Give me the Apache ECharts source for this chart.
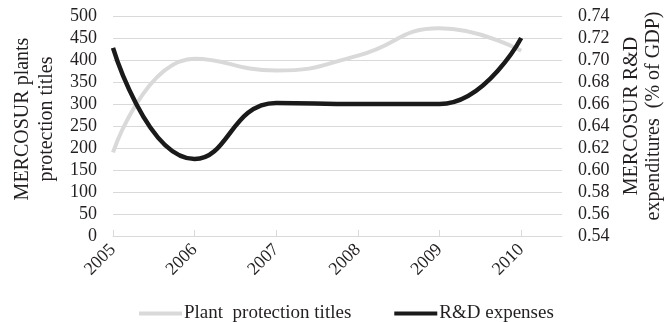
<!DOCTYPE html>
<html>
<head>
<meta charset="utf-8">
<script src="https://cdn.jsdelivr.net/npm/echarts@6/dist/echarts.min.js"></script>
<style>
html,body{margin:0;padding:0;background:#fff;}
#chart{width:665px;height:322px;}
</style>
</head>
<body>
<div id="chart"></div>
<script>
const years = [2005, 2006, 2007, 2008, 2009, 2010];
const plantTitles = [190, 403, 376, 410, 472, 421];
const rdExpenses = [0.711, 0.610, 0.661, 0.660, 0.660, 0.720];
const leftName = 'MERCOSUR plants\nprotection titles';
const rightName = 'MERCOSUR R&D\nexpenditures  (% of GDP)';
const seriesNames = ['Plant  protection titles', 'R&D expenses'];

const FONT = '"Liberation Serif", "Times New Roman", serif';
const TXT = '#231f20';
const GRID = '#d9d9d9';

const chart = echarts.init(document.getElementById('chart'), null, {renderer: 'canvas'});
chart.setOption({
  animation: false,
  textStyle: {fontFamily: FONT, color: TXT},
  grid: {left: 113, right: 103, top: 16, bottom: 86, containLabel: false, outerBoundsMode: 'none'},
  legend: {
    left: 134, top: 299,
    itemWidth: 43, itemHeight: 4, itemGap: 43,
    icon: 'rect',
    textStyle: {fontFamily: FONT, fontSize: 19, color: TXT, padding: [0,0,0,-3]},
    data: seriesNames
  },
  xAxis: {
    type: 'value',
    min: years[0], max: years[years.length - 1] + 0.5,
    interval: 1,
    splitLine: {show: false},
    axisLine: {show: true, lineStyle: {color: GRID, width: 1}},
    axisTick: {show: true, inside: true, length: 6, lineStyle: {color: GRID}, customValues: years},
    axisLabel: {
      customValues: years,
      rotate: 45, margin: 11,
      fontFamily: FONT, fontSize: 18, color: TXT,
      formatter: v => String(v)
    }
  },
  yAxis: [
    {
      type: 'value', min: 0, max: 500, interval: 50,
      position: 'left',
      name: leftName, nameLocation: 'middle', nameRotate: 90, nameGap: 48,
      nameTextStyle: {fontFamily: FONT, fontSize: 20, color: TXT, lineHeight: 24, padding: [0, 0, 0, 14]},
      axisLine: {show: false}, axisTick: {show: false},
      axisLabel: {margin: 16, fontFamily: FONT, fontSize: 18, color: TXT},
      splitLine: {show: true, lineStyle: {color: GRID, width: 1}}
    },
    {
      type: 'value', min: 0.54, max: 0.74, interval: 0.02,
      position: 'right',
      name: rightName, nameLocation: 'middle', nameRotate: 90, nameGap: 58,
      nameTextStyle: {fontFamily: FONT, fontSize: 20, color: TXT, lineHeight: 22, padding: [0, 0, 0, 20]},
      axisLine: {show: false}, axisTick: {show: false},
      axisLabel: {margin: 16, fontFamily: FONT, fontSize: 18, color: TXT, formatter: v => v.toFixed(2)},
      splitLine: {show: false}
    }
  ],
  series: [
    {
      name: seriesNames[0], type: 'line', yAxisIndex: 0,
      data: years.map((y, i) => [y, plantTitles[i]]),
      smooth: 0.5, showSymbol: false, symbol: 'none',
      lineStyle: {color: '#d9d9d9', width: 4},
      itemStyle: {color: '#d9d9d9'}
    },
    {
      name: seriesNames[1], type: 'line', yAxisIndex: 1,
      data: years.map((y, i) => [y, rdExpenses[i]]),
      smooth: 0.5, showSymbol: false, symbol: 'none',
      lineStyle: {color: '#1a1a1a', width: 4.5},
      itemStyle: {color: '#1a1a1a'}
    }
  ]
});
</script>
</body>
</html>
